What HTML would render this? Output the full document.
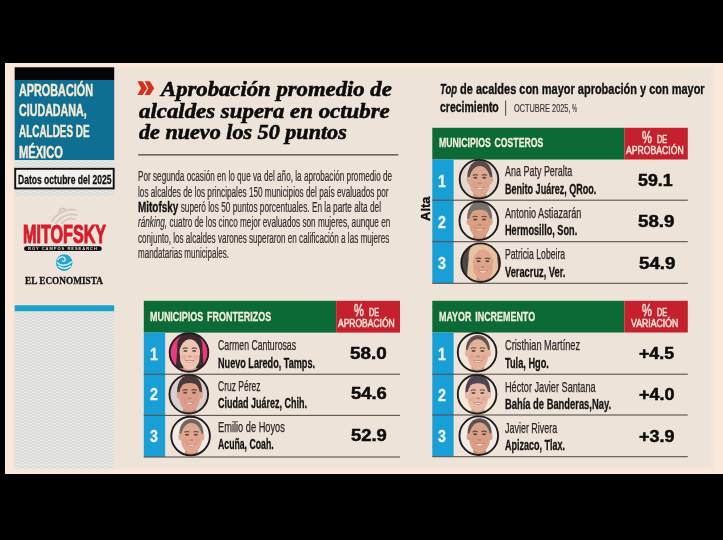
<!DOCTYPE html>
<html lang="es"><head><meta charset="utf-8"><title>Aprobación ciudadana, alcaldes de México</title>
<style>
html,body{margin:0;padding:0;background:#000;}
body{width:723px;height:540px;position:relative;overflow:hidden;font-family:"Liberation Sans","DejaVu Sans",sans-serif;}
.a{position:absolute;}
.t{position:absolute;white-space:nowrap;line-height:1;transform-origin:0 0;margin:0;padding:0;}
.t b{font-weight:700}
svg{position:absolute;left:0;top:0;}
</style></head><body>
<svg width="723" height="540" viewBox="0 0 723 540">
<defs>
<filter id="soft" x="-2%" y="-2%" width="104%" height="104%"><feGaussianBlur stdDeviation="0.9"/></filter>
<filter id="bl" x="-10%" y="-10%" width="120%" height="120%"><feGaussianBlur stdDeviation="0.55"/></filter>
<pattern id="wv" width="8" height="3" patternUnits="userSpaceOnUse">
<rect width="8" height="3" fill="#e9eae6"/>
<path d="M-2,2.5 L0,1.5 L2,0.5 L4,1.5 L6,2.5 L8,1.5 L10,0.5" fill="none" stroke="#d7d9d6" stroke-width="1.3" stroke-linejoin="round"/>
<path d="M-2,5.5 L0,4.5 L2,3.5 L4,4.5 M-2,-0.5 L0,-1.5 M4,-1.5 L6,-0.5 L8,-1.5" fill="none" stroke="#d7d9d6" stroke-width="1.3" stroke-linejoin="round"/>
</pattern>
</defs>
<rect x="0" y="0" width="723" height="540" fill="#000"/>
<rect x="5" y="63" width="718" height="411" fill="#fce8db"/>
<rect x="13.5" y="67" width="699" height="401.5" fill="#eee3d8" filter="url(#soft)"/>
<rect x="14.7" y="67.3" width="99.5" height="13" fill="#050505"/>
<rect x="14.7" y="80" width="99.5" height="80" fill="#0f6f92"/>
<rect x="14.7" y="160" width="99.5" height="36" fill="url(#wv)"/>
<rect x="15.2" y="168.8" width="98.5" height="19.6" fill="#f3efea" stroke="#111" stroke-width="1.9"/>
<g fill="none" stroke="#d5c8bc" stroke-width="1.8" stroke-linecap="round"><path d="M52,221 C58,212 68,208 76,210"/><path d="M56,223 C62,216 70,213 77,215"/><path d="M62,223 C66,219 71,218 75,219"/><path d="M60,213 C58,209 63,207 66,210"/></g>
<rect x="24" y="246.3" width="77.8" height="4.8" rx="2.4" fill="#111"/>
<circle cx="64.2" cy="262.6" r="8.3" fill="#27a5d2"/>
<g fill="none" stroke="#eaf6fb" stroke-width="1.3" stroke-linecap="round"><path d="M57.2,262.5 C60,266.5 67,266 71.5,262"/><path d="M58.5,266 C62,269.3 67.5,268.8 70.6,266"/><path d="M58,259.5 C60,256.5 63.5,256 65,258.5 C66,260.5 64,262 62.5,261"/></g>
<rect x="14.7" y="305.3" width="99.5" height="6.2" fill="#17a3c9"/>
<rect x="14.7" y="311.5" width="99.5" height="157.5" fill="url(#wv)"/>
<g fill="#d52f1f"><path d="M137.5,81.3 h5.2 l4.3,6.9 -4.3,6.9 h-5.2 l3.6,-6.9 z"/><path d="M144.7,81.3 h5.2 l4.3,6.9 -4.3,6.9 h-5.2 l3.6,-6.9 z"/></g>
<rect x="138.2" y="154.4" width="260.2" height="1" fill="#1f1d1c"/>
<rect x="505.2" y="100.5" width="0.9" height="15.2" fill="#333"/>
<rect x="432.3" y="127.8" width="192.09999999999997" height="31.700000000000003" fill="#0c6a37"/><rect x="624.4" y="127.8" width="63.39999999999998" height="31.700000000000003" fill="#c5202e"/><rect x="432.3" y="159.5" width="21.3" height="123.80000000000001" fill="#189fd6"/><rect x="432.3" y="199.64999999999998" width="255.49999999999994" height="1.1" fill="#5a524d"/><rect x="432.3" y="241.14999999999998" width="255.49999999999994" height="1.1" fill="#5a524d"/><rect x="432.3" y="282.75" width="255.49999999999994" height="1.1" fill="#5a524d"/><clipPath id="c479_179"><circle cx="479.0" cy="179.2" r="19.3"/></clipPath><g clip-path="url(#c479_179)"><g transform="translate(479.8,177.89999999999998) scale(1.1,1.12)" filter="url(#bl)"><rect x="-23" y="-23" width="46" height="46" fill="#e3d8d0"/><path d="M-11.2,3 C-14,-22 14,-22 11.2,3 L9,6 L-9,6 Z" fill="#5b4a48"/><ellipse cx="0" cy="27.5" rx="20" ry="10.5" fill="#e8ddd6"/><rect x="-5.8" y="10" width="11.6" height="10" fill="#dba88f"/><rect x="-5.8" y="14" width="11.6" height="4" fill="#8a5a4a" opacity="0.28"/><ellipse cx="-10" cy="2" rx="1.8" ry="3.1" fill="#dba88f"/><ellipse cx="10" cy="2" rx="1.8" ry="3.1" fill="#dba88f"/><ellipse cx="0" cy="3" rx="9.6" ry="13.6" fill="#dba88f"/><ellipse cx="-5.4" cy="5.4" rx="2.6" ry="2.3" fill="#e08a78" opacity="0.3"/><ellipse cx="5.4" cy="5.4" rx="2.6" ry="2.3" fill="#e08a78" opacity="0.3"/><path d="M-10.2,0 C-11,-17 11,-17 10.2,0 C9.2,-7 5.5,-10.4 0,-10.8 C-5.5,-10.4 -9.2,-7 -10.2,0 Z" fill="#5b4a48"/><path d="M-6.4,-2.2 Q-4,-3.6 -1.8,-2.4 M1.8,-2.4 Q4,-3.6 6.4,-2.2" stroke="#3b2a26" stroke-width="1" fill="none" opacity="0.75"/><ellipse cx="-4" cy="-0.1" rx="1.9" ry="0.9" fill="#3b2a26" opacity="0.75"/><ellipse cx="4" cy="-0.1" rx="1.9" ry="0.9" fill="#3b2a26" opacity="0.75"/><ellipse cx="0" cy="4.8" rx="2" ry="1" fill="#a8705c" opacity="0.5"/><path d="M-4.6,7.8 Q0,13 4.6,7.8 Q0,8.8 -4.6,7.8 Z" fill="#b5645c"/><path d="M-3.6,8.5 Q0,11.6 3.6,8.5 Q0,9.3 -3.6,8.5 Z" fill="#fbf4ee"/></g></g><circle cx="479.0" cy="179.2" r="19.3" fill="none" stroke="#211d1d" stroke-width="1.9"/><clipPath id="c478_220"><circle cx="478.8" cy="220.8" r="19.3"/></clipPath><g clip-path="url(#c478_220)"><g transform="translate(479.6,219.5) scale(1.1,1.12)" filter="url(#bl)"><rect x="-23" y="-23" width="46" height="46" fill="#eee7e1"/><path d="M-11.2,2 C-14,-22 14,-22 11.2,2 Z" fill="#77706c"/><ellipse cx="0" cy="27.5" rx="20" ry="10.5" fill="#8b8f98"/><rect x="-5.8" y="10" width="11.6" height="10" fill="#d9a182"/><rect x="-5.8" y="14" width="11.6" height="4" fill="#8a5a4a" opacity="0.28"/><ellipse cx="-10" cy="2" rx="1.8" ry="3.1" fill="#d9a182"/><ellipse cx="10" cy="2" rx="1.8" ry="3.1" fill="#d9a182"/><ellipse cx="0" cy="3" rx="9.6" ry="13.6" fill="#d9a182"/><ellipse cx="-5.4" cy="5.4" rx="2.6" ry="2.3" fill="#e08a78" opacity="0.3"/><ellipse cx="5.4" cy="5.4" rx="2.6" ry="2.3" fill="#e08a78" opacity="0.3"/><path d="M-10.2,-1 C-11,-17 11,-17 10.2,-1 C9.4,-6 7,-8.6 0,-8.8 C-7,-8.6 -9.4,-6 -10.2,-1 Z" fill="#77706c"/><path d="M-6.4,-2.2 Q-4,-3.6 -1.8,-2.4 M1.8,-2.4 Q4,-3.6 6.4,-2.2" stroke="#3b2a26" stroke-width="1" fill="none" opacity="0.75"/><ellipse cx="-4" cy="-0.1" rx="1.9" ry="0.9" fill="#3b2a26" opacity="0.75"/><ellipse cx="4" cy="-0.1" rx="1.9" ry="0.9" fill="#3b2a26" opacity="0.75"/><ellipse cx="0" cy="4.8" rx="2" ry="1" fill="#a8705c" opacity="0.5"/><path d="M-4.6,7.8 Q0,13 4.6,7.8 Q0,8.8 -4.6,7.8 Z" fill="#b5645c"/><path d="M-3.6,8.5 Q0,11.6 3.6,8.5 Q0,9.3 -3.6,8.5 Z" fill="#fbf4ee"/></g></g><circle cx="478.8" cy="220.8" r="19.3" fill="none" stroke="#211d1d" stroke-width="1.9"/><clipPath id="c480_262"><circle cx="480.6" cy="262.7" r="19.3"/></clipPath><g clip-path="url(#c480_262)"><g transform="translate(483.0,261.4) scale(1.1,1.12)" filter="url(#bl)"><rect x="-23" y="-23" width="46" height="46" fill="#4b4749"/><path d="M-13,-3 C-15,-23 15,-23 13,-3 L15.5,23 L-15.5,23 Z" fill="#e5c3a3"/><ellipse cx="0" cy="27.5" rx="20" ry="10.5" fill="#e8c9b8"/><rect x="-5.8" y="10" width="11.6" height="10" fill="#e0a68d"/><rect x="-5.8" y="14" width="11.6" height="4" fill="#8a5a4a" opacity="0.28"/><ellipse cx="0" cy="3" rx="9.6" ry="13.6" fill="#e0a68d"/><ellipse cx="-5.4" cy="5.4" rx="2.6" ry="2.3" fill="#e08a78" opacity="0.3"/><ellipse cx="5.4" cy="5.4" rx="2.6" ry="2.3" fill="#e08a78" opacity="0.3"/><path d="M-10.5,2 C-11,-18 11,-18 10.5,2 C9,-7 5,-10.6 0.5,-11.6 C-4.5,-10.6 -9,-7 -10.5,2 Z" fill="#e5c3a3"/><path d="M-10.2,-2 L-13.5,21 L-8.4,21 L-8.9,4 Z M10.2,-2 L13.5,21 L8.4,21 L8.9,4 Z" fill="#e5c3a3"/><path d="M-6.4,-2.2 Q-4,-3.6 -1.8,-2.4 M1.8,-2.4 Q4,-3.6 6.4,-2.2" stroke="#3b2a26" stroke-width="1" fill="none" opacity="0.75"/><ellipse cx="-4" cy="-0.1" rx="1.9" ry="0.9" fill="#3b2a26" opacity="0.75"/><ellipse cx="4" cy="-0.1" rx="1.9" ry="0.9" fill="#3b2a26" opacity="0.75"/><ellipse cx="0" cy="4.8" rx="2" ry="1" fill="#a8705c" opacity="0.5"/><path d="M-4.6,7.8 Q0,13 4.6,7.8 Q0,8.8 -4.6,7.8 Z" fill="#b5645c"/><path d="M-3.6,8.5 Q0,11.6 3.6,8.5 Q0,9.3 -3.6,8.5 Z" fill="#fbf4ee"/></g></g><circle cx="480.6" cy="262.7" r="19.3" fill="none" stroke="#211d1d" stroke-width="1.9"/>
<rect x="432.3" y="300.8" width="192.09999999999997" height="31.69999999999999" fill="#0c6a37"/><rect x="624.4" y="300.8" width="63.39999999999998" height="31.69999999999999" fill="#c5202e"/><rect x="432.3" y="332.5" width="21.3" height="124.19999999999999" fill="#189fd6"/><rect x="432.3" y="373.65" width="255.49999999999994" height="1.1" fill="#5a524d"/><rect x="432.3" y="414.45" width="255.49999999999994" height="1.1" fill="#5a524d"/><rect x="432.3" y="456.15" width="255.49999999999994" height="1.1" fill="#5a524d"/><clipPath id="c477_352"><circle cx="477.1" cy="352.3" r="19.3"/></clipPath><g clip-path="url(#c477_352)"><g transform="translate(477.90000000000003,351.0) scale(1.1,1.12)" filter="url(#bl)"><rect x="-23" y="-23" width="46" height="46" fill="#efe6de"/><path d="M-10.8,1 C-13,-19.5 13,-19.5 10.8,1 Z" fill="#4a3a36" opacity="0.85"/><ellipse cx="0" cy="27.5" rx="20" ry="10.5" fill="#f1ece8"/><rect x="-5.8" y="10" width="11.6" height="10" fill="#e4b29a"/><rect x="-5.8" y="14" width="11.6" height="4" fill="#8a5a4a" opacity="0.28"/><ellipse cx="-10" cy="2" rx="1.8" ry="3.1" fill="#e4b29a"/><ellipse cx="10" cy="2" rx="1.8" ry="3.1" fill="#e4b29a"/><ellipse cx="0" cy="3" rx="9.6" ry="13.6" fill="#e4b29a"/><ellipse cx="-5.4" cy="5.4" rx="2.6" ry="2.3" fill="#e08a78" opacity="0.3"/><ellipse cx="5.4" cy="5.4" rx="2.6" ry="2.3" fill="#e08a78" opacity="0.3"/><path d="M-10,-2 C-10.5,-15 10.5,-15 10,-2 C9.4,-9 6,-12.4 0,-12.6 C-6,-12.4 -9.4,-9 -10,-2 Z" fill="#4a3a36" opacity="0.4"/><path d="M-6.4,-2.2 Q-4,-3.6 -1.8,-2.4 M1.8,-2.4 Q4,-3.6 6.4,-2.2" stroke="#3b2a26" stroke-width="1" fill="none" opacity="0.75"/><ellipse cx="-4" cy="-0.1" rx="1.9" ry="0.9" fill="#3b2a26" opacity="0.75"/><ellipse cx="4" cy="-0.1" rx="1.9" ry="0.9" fill="#3b2a26" opacity="0.75"/><ellipse cx="0" cy="4.8" rx="2" ry="1" fill="#a8705c" opacity="0.5"/><path d="M-4.6,7.8 Q0,13 4.6,7.8 Q0,8.8 -4.6,7.8 Z" fill="#b5645c"/><path d="M-3.6,8.5 Q0,11.6 3.6,8.5 Q0,9.3 -3.6,8.5 Z" fill="#fbf4ee"/></g></g><circle cx="477.1" cy="352.3" r="19.3" fill="none" stroke="#211d1d" stroke-width="1.9"/><clipPath id="c477_394"><circle cx="477.1" cy="394.3" r="19.3"/></clipPath><g clip-path="url(#c477_394)"><g transform="translate(477.90000000000003,393.0) scale(1.1,1.12)" filter="url(#bl)"><rect x="-23" y="-23" width="46" height="46" fill="#f3ead9"/><path d="M-11.2,2 C-14,-22 14,-22 11.2,2 Z" fill="#4f4452"/><ellipse cx="0" cy="27.5" rx="20" ry="10.5" fill="#f0e4d6"/><rect x="-5.8" y="10" width="11.6" height="10" fill="#e8b8a4"/><rect x="-5.8" y="14" width="11.6" height="4" fill="#8a5a4a" opacity="0.28"/><ellipse cx="-10" cy="2" rx="1.8" ry="3.1" fill="#e8b8a4"/><ellipse cx="10" cy="2" rx="1.8" ry="3.1" fill="#e8b8a4"/><ellipse cx="0" cy="3" rx="9.6" ry="13.6" fill="#e8b8a4"/><ellipse cx="-5.4" cy="5.4" rx="2.6" ry="2.3" fill="#e08a78" opacity="0.3"/><ellipse cx="5.4" cy="5.4" rx="2.6" ry="2.3" fill="#e08a78" opacity="0.3"/><path d="M-10.2,-1 C-11,-17 11,-17 10.2,-1 C9.4,-6 7,-8.6 0,-8.8 C-7,-8.6 -9.4,-6 -10.2,-1 Z" fill="#4f4452"/><path d="M-6.4,-2.2 Q-4,-3.6 -1.8,-2.4 M1.8,-2.4 Q4,-3.6 6.4,-2.2" stroke="#3b2a26" stroke-width="1" fill="none" opacity="0.75"/><ellipse cx="-4" cy="-0.1" rx="1.9" ry="0.9" fill="#3b2a26" opacity="0.75"/><ellipse cx="4" cy="-0.1" rx="1.9" ry="0.9" fill="#3b2a26" opacity="0.75"/><ellipse cx="0" cy="4.8" rx="2" ry="1" fill="#a8705c" opacity="0.5"/><path d="M-4.6,7.8 Q0,13 4.6,7.8 Q0,8.8 -4.6,7.8 Z" fill="#b5645c"/><path d="M-3.6,8.5 Q0,11.6 3.6,8.5 Q0,9.3 -3.6,8.5 Z" fill="#fbf4ee"/></g></g><circle cx="477.1" cy="394.3" r="19.3" fill="none" stroke="#211d1d" stroke-width="1.9"/><clipPath id="c478_435"><circle cx="478.8" cy="435.7" r="19.3"/></clipPath><g clip-path="url(#c478_435)"><g transform="translate(479.6,434.4) scale(1.1,1.12)" filter="url(#bl)"><rect x="-23" y="-23" width="46" height="46" fill="#f0ebe8"/><path d="M-10.8,1 C-13,-19.5 13,-19.5 10.8,1 Z" fill="#453a38" opacity="0.85"/><ellipse cx="0" cy="27.5" rx="20" ry="10.5" fill="#7d3442"/><rect x="-5.8" y="10" width="11.6" height="10" fill="#d9a088"/><rect x="-5.8" y="14" width="11.6" height="4" fill="#8a5a4a" opacity="0.28"/><ellipse cx="-10" cy="2" rx="1.8" ry="3.1" fill="#d9a088"/><ellipse cx="10" cy="2" rx="1.8" ry="3.1" fill="#d9a088"/><ellipse cx="0" cy="3" rx="9.6" ry="13.6" fill="#d9a088"/><ellipse cx="-5.4" cy="5.4" rx="2.6" ry="2.3" fill="#e08a78" opacity="0.3"/><ellipse cx="5.4" cy="5.4" rx="2.6" ry="2.3" fill="#e08a78" opacity="0.3"/><path d="M-10,-2 C-10.5,-15 10.5,-15 10,-2 C9.4,-9 6,-12.4 0,-12.6 C-6,-12.4 -9.4,-9 -10,-2 Z" fill="#453a38" opacity="0.4"/><path d="M-6.4,-2.2 Q-4,-3.6 -1.8,-2.4 M1.8,-2.4 Q4,-3.6 6.4,-2.2" stroke="#3b2a26" stroke-width="1" fill="none" opacity="0.75"/><ellipse cx="-4" cy="-0.1" rx="1.9" ry="0.9" fill="#3b2a26" opacity="0.75"/><ellipse cx="4" cy="-0.1" rx="1.9" ry="0.9" fill="#3b2a26" opacity="0.75"/><ellipse cx="0" cy="4.8" rx="2" ry="1" fill="#a8705c" opacity="0.5"/><path d="M-4.6,7.8 Q0,13 4.6,7.8 Q0,8.8 -4.6,7.8 Z" fill="#b5645c"/><path d="M-3.6,8.5 Q0,11.6 3.6,8.5 Q0,9.3 -3.6,8.5 Z" fill="#fbf4ee"/></g></g><circle cx="478.8" cy="435.7" r="19.3" fill="none" stroke="#211d1d" stroke-width="1.9"/>
<rect x="143.8" y="300.8" width="192.39999999999998" height="31.80000000000001" fill="#0c6a37"/><rect x="336.2" y="300.8" width="63.80000000000001" height="31.80000000000001" fill="#c5202e"/><rect x="143.8" y="332.6" width="21.3" height="124.39999999999998" fill="#189fd6"/><rect x="143.8" y="373.65" width="256.2" height="1.1" fill="#5a524d"/><rect x="143.8" y="414.84999999999997" width="256.2" height="1.1" fill="#5a524d"/><rect x="143.8" y="456.45" width="256.2" height="1.1" fill="#5a524d"/><clipPath id="c189_352"><circle cx="189.0" cy="352.5" r="19.3"/></clipPath><g clip-path="url(#c189_352)"><g transform="translate(189.8,351.2) scale(1.1,1.12)" filter="url(#bl)"><rect x="-23" y="-23" width="46" height="46" fill="#e83a78"/><path d="M-11.4,-3 C-13,-21 13,-21 11.4,-3 L12.6,15 L-12.6,15 Z" fill="#3a2a30"/><ellipse cx="0" cy="27.5" rx="20" ry="10.5" fill="#e2417a"/><rect x="-5.8" y="10" width="11.6" height="10" fill="#ecc4b2"/><rect x="-5.8" y="14" width="11.6" height="4" fill="#8a5a4a" opacity="0.28"/><ellipse cx="0" cy="3" rx="9.6" ry="13.6" fill="#ecc4b2"/><ellipse cx="-5.4" cy="5.4" rx="2.6" ry="2.3" fill="#e08a78" opacity="0.3"/><ellipse cx="5.4" cy="5.4" rx="2.6" ry="2.3" fill="#e08a78" opacity="0.3"/><path d="M-10.5,2 C-11,-17 11,-17 10.5,2 C9,-7 5,-10.6 0.5,-11.6 C-4.5,-10.6 -9,-7 -10.5,2 Z" fill="#3a2a30"/><path d="M-10.2,-2 L-12.2,15 L-8.6,15 L-8.9,4 Z M10.2,-2 L12.2,15 L8.6,15 L8.9,4 Z" fill="#3a2a30"/><path d="M-6.4,-2.2 Q-4,-3.6 -1.8,-2.4 M1.8,-2.4 Q4,-3.6 6.4,-2.2" stroke="#3b2a26" stroke-width="1" fill="none" opacity="0.75"/><ellipse cx="-4" cy="-0.1" rx="1.9" ry="0.9" fill="#3b2a26" opacity="0.75"/><ellipse cx="4" cy="-0.1" rx="1.9" ry="0.9" fill="#3b2a26" opacity="0.75"/><ellipse cx="0" cy="4.8" rx="2" ry="1" fill="#a8705c" opacity="0.5"/><path d="M-4.6,7.8 Q0,13 4.6,7.8 Q0,8.8 -4.6,7.8 Z" fill="#d0405a"/><path d="M-3.6,8.5 Q0,11.6 3.6,8.5 Q0,9.3 -3.6,8.5 Z" fill="#fbf4ee"/></g></g><circle cx="189.0" cy="352.5" r="19.3" fill="none" stroke="#211d1d" stroke-width="1.9"/><clipPath id="c188_394"><circle cx="188.8" cy="394.2" r="19.3"/></clipPath><g clip-path="url(#c188_394)"><g transform="translate(189.60000000000002,392.9) scale(1.1,1.12)" filter="url(#bl)"><rect x="-23" y="-23" width="46" height="46" fill="#d9cfd2"/><path d="M-11.2,2 C-14,-22 14,-22 11.2,2 Z" fill="#4a3a38"/><ellipse cx="0" cy="27.5" rx="20" ry="10.5" fill="#e6e0e4"/><rect x="-5.8" y="10" width="11.6" height="10" fill="#dba08a"/><rect x="-5.8" y="14" width="11.6" height="4" fill="#8a5a4a" opacity="0.28"/><ellipse cx="-10" cy="2" rx="1.8" ry="3.1" fill="#dba08a"/><ellipse cx="10" cy="2" rx="1.8" ry="3.1" fill="#dba08a"/><ellipse cx="0" cy="3" rx="9.6" ry="13.6" fill="#dba08a"/><ellipse cx="-5.4" cy="5.4" rx="2.6" ry="2.3" fill="#e08a78" opacity="0.3"/><ellipse cx="5.4" cy="5.4" rx="2.6" ry="2.3" fill="#e08a78" opacity="0.3"/><path d="M-10.2,-1 C-11,-17 11,-17 10.2,-1 C9.4,-6 7,-8.6 0,-8.8 C-7,-8.6 -9.4,-6 -10.2,-1 Z" fill="#4a3a38"/><path d="M-6.4,-2.2 Q-4,-3.6 -1.8,-2.4 M1.8,-2.4 Q4,-3.6 6.4,-2.2" stroke="#3b2a26" stroke-width="1" fill="none" opacity="0.75"/><ellipse cx="-4" cy="-0.1" rx="1.9" ry="0.9" fill="#3b2a26" opacity="0.75"/><ellipse cx="4" cy="-0.1" rx="1.9" ry="0.9" fill="#3b2a26" opacity="0.75"/><ellipse cx="0" cy="4.8" rx="2" ry="1" fill="#a8705c" opacity="0.5"/><path d="M-4.6,7.8 Q0,13 4.6,7.8 Q0,8.8 -4.6,7.8 Z" fill="#b5645c"/><path d="M-3.6,8.5 Q0,11.6 3.6,8.5 Q0,9.3 -3.6,8.5 Z" fill="#fbf4ee"/></g></g><circle cx="188.8" cy="394.2" r="19.3" fill="none" stroke="#211d1d" stroke-width="1.9"/><clipPath id="c190_436"><circle cx="190.6" cy="436.1" r="19.3"/></clipPath><g clip-path="url(#c190_436)"><g transform="translate(191.4,434.8) scale(1.1,1.12)" filter="url(#bl)"><rect x="-23" y="-23" width="46" height="46" fill="#f1ece8"/><path d="M-10.8,1 C-13,-19.5 13,-19.5 10.8,1 Z" fill="#5e524e" opacity="0.85"/><ellipse cx="0" cy="27.5" rx="20" ry="10.5" fill="#ece6e2"/><rect x="-5.8" y="10" width="11.6" height="10" fill="#e0a890"/><rect x="-5.8" y="14" width="11.6" height="4" fill="#8a5a4a" opacity="0.28"/><ellipse cx="-10" cy="2" rx="1.8" ry="3.1" fill="#e0a890"/><ellipse cx="10" cy="2" rx="1.8" ry="3.1" fill="#e0a890"/><ellipse cx="0" cy="3" rx="9.6" ry="13.6" fill="#e0a890"/><ellipse cx="-5.4" cy="5.4" rx="2.6" ry="2.3" fill="#e08a78" opacity="0.3"/><ellipse cx="5.4" cy="5.4" rx="2.6" ry="2.3" fill="#e08a78" opacity="0.3"/><path d="M-10,-2 C-10.5,-15 10.5,-15 10,-2 C9.4,-9 6,-12.4 0,-12.6 C-6,-12.4 -9.4,-9 -10,-2 Z" fill="#5e524e" opacity="0.4"/><path d="M-6.4,-2.2 Q-4,-3.6 -1.8,-2.4 M1.8,-2.4 Q4,-3.6 6.4,-2.2" stroke="#3b2a26" stroke-width="1" fill="none" opacity="0.75"/><ellipse cx="-4" cy="-0.1" rx="1.9" ry="0.9" fill="#3b2a26" opacity="0.75"/><ellipse cx="4" cy="-0.1" rx="1.9" ry="0.9" fill="#3b2a26" opacity="0.75"/><ellipse cx="0" cy="4.8" rx="2" ry="1" fill="#a8705c" opacity="0.5"/><path d="M-4.6,7.8 Q0,13 4.6,7.8 Q0,8.8 -4.6,7.8 Z" fill="#b5645c"/><path d="M-3.6,8.5 Q0,11.6 3.6,8.5 Q0,9.3 -3.6,8.5 Z" fill="#fbf4ee"/></g></g><circle cx="190.6" cy="436.1" r="19.3" fill="none" stroke="#211d1d" stroke-width="1.9"/>
</svg>
<div class="a" style="left:419px;top:197px;width:13px;height:24.2px;"><div style="position:absolute;left:0;top:24.2px;transform-origin:0 0;transform:rotate(-90deg);font:700 13px/13px 'Liberation Sans','DejaVu Sans',sans-serif;color:#0c0c0c;white-space:nowrap;-webkit-text-stroke:0.3px #0c0c0c">Alta</div></div>
<div class="t" id="t0" style="left:19.20px;top:83.30px;font-family:'Liberation Sans','DejaVu Sans',sans-serif;font-size:16px;transform:scaleX(0.6771);font-weight:700;color:#f6ecd6;-webkit-text-stroke:0.45px #f6ecd6">APROBACIÓN</div>
<div class="t" id="t1" style="left:19.20px;top:102.80px;font-family:'Liberation Sans','DejaVu Sans',sans-serif;font-size:16px;transform:scaleX(0.6683);font-weight:700;color:#f6ecd6;-webkit-text-stroke:0.45px #f6ecd6">CIUDADANA,</div>
<div class="t" id="t2" style="left:19.20px;top:124.00px;font-family:'Liberation Sans','DejaVu Sans',sans-serif;font-size:16px;transform:scaleX(0.6211);font-weight:700;color:#f6ecd6;-webkit-text-stroke:0.45px #f6ecd6">ALCALDES DE</div>
<div class="t" id="t3" style="left:19.20px;top:144.50px;font-family:'Liberation Sans','DejaVu Sans',sans-serif;font-size:16px;transform:scaleX(0.6952);font-weight:700;color:#f6ecd6;-webkit-text-stroke:0.45px #f6ecd6">MÉXICO</div>
<div class="t" id="t4" style="left:17.50px;top:172.70px;font-family:'Liberation Sans','DejaVu Sans',sans-serif;font-size:13.2px;transform:scaleX(0.6479);font-weight:700;color:#111;-webkit-text-stroke:0.3px #111">Datos octubre del 2025</div>
<div class="t" id="t5" style="left:22.50px;top:222.00px;font-family:'Liberation Sans','DejaVu Sans',sans-serif;font-size:25.2px;transform:scaleX(0.6408);font-weight:700;color:#d51f2b;-webkit-text-stroke:1.1px #d51f2b">MITOFSKY</div>
<div class="t" id="t6" style="left:28.00px;top:247.20px;font-family:'Liberation Sans','DejaVu Sans',sans-serif;font-size:4px;transform:scaleX(1.0000);font-weight:700;color:#e8e0d8;letter-spacing:1px">ROY CAMPOS RESEARCH</div>
<div class="t" id="t7" style="left:25.00px;top:275.50px;font-family:'Liberation Serif','DejaVu Serif',serif;font-size:10.6px;transform:scaleX(0.8764);font-weight:700;color:#111;-webkit-text-stroke:0.3px #111">EL ECONOMISTA</div>
<div class="t" id="t8" style="left:161.00px;top:78.80px;font-family:'Liberation Serif','DejaVu Serif',serif;font-size:20.5px;transform:scaleX(1.1072);font-weight:700;font-style:italic;color:#0b0b0b;-webkit-text-stroke:0.55px #0b0b0b">Aprobación promedio de</div>
<div class="t" id="t9" style="left:138.70px;top:101.30px;font-family:'Liberation Serif','DejaVu Serif',serif;font-size:20.5px;transform:scaleX(1.1147);font-weight:700;font-style:italic;color:#0b0b0b;-webkit-text-stroke:0.55px #0b0b0b">alcaldes supera en octubre</div>
<div class="t" id="t10" style="left:138.70px;top:122.20px;font-family:'Liberation Serif','DejaVu Serif',serif;font-size:20.5px;transform:scaleX(1.0793);font-weight:700;font-style:italic;color:#0b0b0b;-webkit-text-stroke:0.55px #0b0b0b">de nuevo los 50 puntos</div>
<div class="t" id="t11" style="left:137.80px;top:169.10px;font-family:'Liberation Sans','DejaVu Sans',sans-serif;font-size:14px;transform:scaleX(0.5839);color:#322f2f;-webkit-text-stroke:0.2px #322f2f">Por segunda ocasión en lo que va del año, la aprobación promedio de</div>
<div class="t" id="t12" style="left:137.80px;top:184.70px;font-family:'Liberation Sans','DejaVu Sans',sans-serif;font-size:14px;transform:scaleX(0.5864);color:#322f2f;-webkit-text-stroke:0.2px #322f2f">los alcaldes de los principales 150 municipios del país evaluados por</div>
<div class="t" id="t13" style="left:137.80px;top:199.60px;font-family:'Liberation Sans','DejaVu Sans',sans-serif;font-size:14px;transform:scaleX(0.5917);color:#322f2f;-webkit-text-stroke:0.2px #322f2f"><b style="color:#111;display:inline-block;transform:scaleX(1.2);transform-origin:0 50%;margin-right:11.4px;-webkit-text-stroke:0.3px #111">Mitofsky</b> superó los 50 puntos porcentuales. En la parte alta del</div>
<div class="t" id="t14" style="left:137.80px;top:215.10px;font-family:'Liberation Sans','DejaVu Sans',sans-serif;font-size:14px;transform:scaleX(0.5852);color:#322f2f;-webkit-text-stroke:0.2px #322f2f"><i>ránking,</i> cuatro de los cinco mejor evaluados son mujeres, aunque en</div>
<div class="t" id="t15" style="left:137.80px;top:230.70px;font-family:'Liberation Sans','DejaVu Sans',sans-serif;font-size:14px;transform:scaleX(0.5799);color:#322f2f;-webkit-text-stroke:0.2px #322f2f">conjunto, los alcaldes varones superaron en calificación a las mujeres</div>
<div class="t" id="t16" style="left:137.80px;top:245.80px;font-family:'Liberation Sans','DejaVu Sans',sans-serif;font-size:14px;transform:scaleX(0.5730);color:#322f2f;-webkit-text-stroke:0.2px #322f2f">mandatarias municipales.</div>
<div class="t" id="t17" style="left:439.50px;top:80.90px;font-family:'Liberation Sans','DejaVu Sans',sans-serif;font-size:15.4px;transform:scaleX(0.7129);font-weight:700;color:#111;-webkit-text-stroke:0.35px #111"><i style="display:inline-block;transform:scaleX(.87);transform-origin:0 50%;margin-right:-3.7px">Top</i> de acaldes con mayor aprobación y con mayor</div>
<div class="t" id="t18" style="left:439.50px;top:99.10px;font-family:'Liberation Sans','DejaVu Sans',sans-serif;font-size:15.4px;transform:scaleX(0.6802);font-weight:700;color:#111;-webkit-text-stroke:0.35px #111">crecimiento</div>
<div class="t" id="t19" style="left:514.40px;top:103.00px;font-family:'Liberation Sans','DejaVu Sans',sans-serif;font-size:11.5px;transform:scaleX(0.6404);color:#3a3636;-webkit-text-stroke:0.2px #3a3636">OCTUBRE 2025, <span style="display:inline-block;transform:scaleX(.7);transform-origin:0 50%;margin-right:-3.1px">%</span></div>
<div class="t" id="t20" style="left:438.90px;top:136.30px;font-family:'Liberation Sans','DejaVu Sans',sans-serif;font-size:13px;transform:scaleX(0.6692);font-weight:700;color:#f4eedc;word-spacing:2px;-webkit-text-stroke:0.3px #f4eedc">MUNICIPIOS COSTEROS</div>
<div class="t" id="t21" style="left:150.00px;top:309.80px;font-family:'Liberation Sans','DejaVu Sans',sans-serif;font-size:13px;transform:scaleX(0.6881);font-weight:700;color:#f4eedc;word-spacing:2px;-webkit-text-stroke:0.3px #f4eedc">MUNICIPIOS FRONTERIZOS</div>
<div class="t" id="t22" style="left:438.90px;top:309.80px;font-family:'Liberation Sans','DejaVu Sans',sans-serif;font-size:13px;transform:scaleX(0.6864);font-weight:700;color:#f4eedc;word-spacing:2px;-webkit-text-stroke:0.3px #f4eedc">MAYOR INCREMENTO</div>
<div class="t" id="t23" style="left:642.40px;top:129.80px;font-family:'Liberation Sans','DejaVu Sans',sans-serif;font-size:15.6px;transform:scaleX(0.7143);font-weight:400;color:#f9e4d6;-webkit-text-stroke:0.5px #f9e4d6">%</div>
<div class="t" id="t24" style="left:656.90px;top:134.80px;font-family:'Liberation Sans','DejaVu Sans',sans-serif;font-size:10px;transform:scaleX(0.7214);font-weight:400;color:#f9e4d6;-webkit-text-stroke:0.5px #f9e4d6">DE</div>
<div class="t" id="t25" style="left:625.80px;top:145.90px;font-family:'Liberation Sans','DejaVu Sans',sans-serif;font-size:10px;transform:scaleX(0.8657);font-weight:400;color:#f9e4d6;-webkit-text-stroke:0.5px #f9e4d6">APROBACIÓN</div>
<div class="t" id="t26" style="left:354.20px;top:302.80px;font-family:'Liberation Sans','DejaVu Sans',sans-serif;font-size:15.6px;transform:scaleX(0.7143);font-weight:400;color:#f9e4d6;-webkit-text-stroke:0.5px #f9e4d6">%</div>
<div class="t" id="t27" style="left:368.70px;top:307.80px;font-family:'Liberation Sans','DejaVu Sans',sans-serif;font-size:10px;transform:scaleX(0.7214);font-weight:400;color:#f9e4d6;-webkit-text-stroke:0.5px #f9e4d6">DE</div>
<div class="t" id="t28" style="left:338.00px;top:318.90px;font-family:'Liberation Sans','DejaVu Sans',sans-serif;font-size:10px;transform:scaleX(0.8507);font-weight:400;color:#f9e4d6;-webkit-text-stroke:0.5px #f9e4d6">APROBACIÓN</div>
<div class="t" id="t29" style="left:642.40px;top:302.80px;font-family:'Liberation Sans','DejaVu Sans',sans-serif;font-size:15.6px;transform:scaleX(0.7143);font-weight:400;color:#f9e4d6;-webkit-text-stroke:0.5px #f9e4d6">%</div>
<div class="t" id="t30" style="left:656.90px;top:307.80px;font-family:'Liberation Sans','DejaVu Sans',sans-serif;font-size:10px;transform:scaleX(0.7214);font-weight:400;color:#f9e4d6;-webkit-text-stroke:0.5px #f9e4d6">DE</div>
<div class="t" id="t31" style="left:631.00px;top:318.90px;font-family:'Liberation Sans','DejaVu Sans',sans-serif;font-size:10px;transform:scaleX(0.8704);font-weight:400;color:#f9e4d6;-webkit-text-stroke:0.5px #f9e4d6">VARIACIÓN</div>
<div class="t" id="t32" style="left:505.40px;top:164.00px;font-family:'Liberation Sans','DejaVu Sans',sans-serif;font-size:14.6px;transform:scaleX(0.6145);color:#2b2727;-webkit-text-stroke:0.25px #2b2727">Ana Paty Peralta</div>
<div class="t" id="t33" style="left:505.40px;top:181.80px;font-family:'Liberation Sans','DejaVu Sans',sans-serif;font-size:14.6px;transform:scaleX(0.6189);font-weight:700;color:#151313;-webkit-text-stroke:0.3px #151313">Benito Juárez, QRoo.</div>
<div class="t" id="t34" style="left:638.40px;top:173.00px;font-family:'Liberation Sans','DejaVu Sans',sans-serif;font-size:16.6px;transform:scaleX(1.0719);font-weight:700;color:#0c0c0c;-webkit-text-stroke:0.5px #0c0c0c">59.1</div>
<div class="t" id="t35" style="left:438.00px;top:173.60px;font-family:'Liberation Sans','DejaVu Sans',sans-serif;font-size:16px;transform:scaleX(0.8889);font-weight:700;color:#f4f4ee;-webkit-text-stroke:0.3px #f4f4ee">1</div>
<div class="t" id="t36" style="left:505.40px;top:205.50px;font-family:'Liberation Sans','DejaVu Sans',sans-serif;font-size:14.6px;transform:scaleX(0.6279);color:#2b2727;-webkit-text-stroke:0.25px #2b2727">Antonio Astiazarán</div>
<div class="t" id="t37" style="left:505.40px;top:223.00px;font-family:'Liberation Sans','DejaVu Sans',sans-serif;font-size:14.6px;transform:scaleX(0.6270);font-weight:700;color:#151313;-webkit-text-stroke:0.3px #151313">Hermosillo, Son.</div>
<div class="t" id="t38" style="left:638.40px;top:214.10px;font-family:'Liberation Sans','DejaVu Sans',sans-serif;font-size:16.6px;transform:scaleX(1.1281);font-weight:700;color:#0c0c0c;-webkit-text-stroke:0.5px #0c0c0c">58.9</div>
<div class="t" id="t39" style="left:438.00px;top:214.70px;font-family:'Liberation Sans','DejaVu Sans',sans-serif;font-size:16px;transform:scaleX(0.8889);font-weight:700;color:#f4f4ee;-webkit-text-stroke:0.3px #f4f4ee">2</div>
<div class="t" id="t40" style="left:505.40px;top:247.00px;font-family:'Liberation Sans','DejaVu Sans',sans-serif;font-size:14.6px;transform:scaleX(0.5931);color:#2b2727;-webkit-text-stroke:0.25px #2b2727">Patricia Lobeira</div>
<div class="t" id="t41" style="left:505.40px;top:264.50px;font-family:'Liberation Sans','DejaVu Sans',sans-serif;font-size:14.6px;transform:scaleX(0.6358);font-weight:700;color:#151313;-webkit-text-stroke:0.3px #151313">Veracruz, Ver.</div>
<div class="t" id="t42" style="left:638.50px;top:255.60px;font-family:'Liberation Sans','DejaVu Sans',sans-serif;font-size:16.6px;transform:scaleX(1.1281);font-weight:700;color:#0c0c0c;-webkit-text-stroke:0.5px #0c0c0c">54.9</div>
<div class="t" id="t43" style="left:438.00px;top:256.20px;font-family:'Liberation Sans','DejaVu Sans',sans-serif;font-size:16px;transform:scaleX(0.8889);font-weight:700;color:#f4f4ee;-webkit-text-stroke:0.3px #f4f4ee">3</div>
<div class="t" id="t44" style="left:505.40px;top:338.00px;font-family:'Liberation Sans','DejaVu Sans',sans-serif;font-size:14.6px;transform:scaleX(0.6347);color:#2b2727;-webkit-text-stroke:0.25px #2b2727">Cristhian Martínez</div>
<div class="t" id="t45" style="left:505.40px;top:355.80px;font-family:'Liberation Sans','DejaVu Sans',sans-serif;font-size:14.6px;transform:scaleX(0.6319);font-weight:700;color:#151313;-webkit-text-stroke:0.3px #151313">Tula, Hgo.</div>
<div class="t" id="t46" style="left:638.90px;top:346.00px;font-family:'Liberation Sans','DejaVu Sans',sans-serif;font-size:16.6px;transform:scaleX(1.0697);font-weight:700;color:#0c0c0c;-webkit-text-stroke:0.5px #0c0c0c">+4.5</div>
<div class="t" id="t47" style="left:438.00px;top:346.60px;font-family:'Liberation Sans','DejaVu Sans',sans-serif;font-size:16px;transform:scaleX(0.8889);font-weight:700;color:#f4f4ee;-webkit-text-stroke:0.3px #f4f4ee">1</div>
<div class="t" id="t48" style="left:505.40px;top:379.70px;font-family:'Liberation Sans','DejaVu Sans',sans-serif;font-size:14.6px;transform:scaleX(0.6278);color:#2b2727;-webkit-text-stroke:0.25px #2b2727">Héctor Javier Santana</div>
<div class="t" id="t49" style="left:505.40px;top:396.70px;font-family:'Liberation Sans','DejaVu Sans',sans-serif;font-size:14.6px;transform:scaleX(0.6418);font-weight:700;color:#151313;-webkit-text-stroke:0.3px #151313">Bahía de Banderas,Nay.</div>
<div class="t" id="t50" style="left:638.90px;top:387.40px;font-family:'Liberation Sans','DejaVu Sans',sans-serif;font-size:16.6px;transform:scaleX(1.0788);font-weight:700;color:#0c0c0c;-webkit-text-stroke:0.5px #0c0c0c">+4.0</div>
<div class="t" id="t51" style="left:438.00px;top:388.00px;font-family:'Liberation Sans','DejaVu Sans',sans-serif;font-size:16px;transform:scaleX(0.8889);font-weight:700;color:#f4f4ee;-webkit-text-stroke:0.3px #f4f4ee">2</div>
<div class="t" id="t52" style="left:505.40px;top:420.50px;font-family:'Liberation Sans','DejaVu Sans',sans-serif;font-size:14.6px;transform:scaleX(0.6129);color:#2b2727;-webkit-text-stroke:0.25px #2b2727">Javier Rivera</div>
<div class="t" id="t53" style="left:505.40px;top:438.00px;font-family:'Liberation Sans','DejaVu Sans',sans-serif;font-size:14.6px;transform:scaleX(0.6175);font-weight:700;color:#151313;-webkit-text-stroke:0.3px #151313">Apizaco, Tlax.</div>
<div class="t" id="t54" style="left:638.90px;top:428.70px;font-family:'Liberation Sans','DejaVu Sans',sans-serif;font-size:16.6px;transform:scaleX(1.0788);font-weight:700;color:#0c0c0c;-webkit-text-stroke:0.5px #0c0c0c">+3.9</div>
<div class="t" id="t55" style="left:438.00px;top:429.30px;font-family:'Liberation Sans','DejaVu Sans',sans-serif;font-size:16px;transform:scaleX(0.8889);font-weight:700;color:#f4f4ee;-webkit-text-stroke:0.3px #f4f4ee">3</div>
<div class="t" id="t56" style="left:217.50px;top:338.00px;font-family:'Liberation Sans','DejaVu Sans',sans-serif;font-size:14.6px;transform:scaleX(0.5977);color:#2b2727;-webkit-text-stroke:0.25px #2b2727">Carmen Canturosas</div>
<div class="t" id="t57" style="left:217.50px;top:355.50px;font-family:'Liberation Sans','DejaVu Sans',sans-serif;font-size:14.6px;transform:scaleX(0.6239);font-weight:700;color:#151313;-webkit-text-stroke:0.3px #151313">Nuevo Laredo, Tamps.</div>
<div class="t" id="t58" style="left:350.30px;top:346.20px;font-family:'Liberation Sans','DejaVu Sans',sans-serif;font-size:16.6px;transform:scaleX(1.1344);font-weight:700;color:#0c0c0c;-webkit-text-stroke:0.5px #0c0c0c">58.0</div>
<div class="t" id="t59" style="left:150.00px;top:346.80px;font-family:'Liberation Sans','DejaVu Sans',sans-serif;font-size:16px;transform:scaleX(0.8889);font-weight:700;color:#f4f4ee;-webkit-text-stroke:0.3px #f4f4ee">1</div>
<div class="t" id="t60" style="left:217.50px;top:378.80px;font-family:'Liberation Sans','DejaVu Sans',sans-serif;font-size:14.6px;transform:scaleX(0.5822);color:#2b2727;-webkit-text-stroke:0.25px #2b2727">Cruz Pérez</div>
<div class="t" id="t61" style="left:217.50px;top:396.30px;font-family:'Liberation Sans','DejaVu Sans',sans-serif;font-size:14.6px;transform:scaleX(0.6167);font-weight:700;color:#151313;-webkit-text-stroke:0.3px #151313">Ciudad Juárez, Chih.</div>
<div class="t" id="t62" style="left:350.50px;top:386.40px;font-family:'Liberation Sans','DejaVu Sans',sans-serif;font-size:16.6px;transform:scaleX(1.1094);font-weight:700;color:#0c0c0c;-webkit-text-stroke:0.5px #0c0c0c">54.6</div>
<div class="t" id="t63" style="left:150.00px;top:387.00px;font-family:'Liberation Sans','DejaVu Sans',sans-serif;font-size:16px;transform:scaleX(0.8889);font-weight:700;color:#f4f4ee;-webkit-text-stroke:0.3px #f4f4ee">2</div>
<div class="t" id="t64" style="left:217.50px;top:420.00px;font-family:'Liberation Sans','DejaVu Sans',sans-serif;font-size:14.6px;transform:scaleX(0.6343);color:#2b2727;-webkit-text-stroke:0.25px #2b2727">Emilio de Hoyos</div>
<div class="t" id="t65" style="left:217.50px;top:437.20px;font-family:'Liberation Sans','DejaVu Sans',sans-serif;font-size:14.6px;transform:scaleX(0.5968);font-weight:700;color:#151313;-webkit-text-stroke:0.3px #151313">Acuña, Coah.</div>
<div class="t" id="t66" style="left:350.50px;top:428.20px;font-family:'Liberation Sans','DejaVu Sans',sans-serif;font-size:16.6px;transform:scaleX(1.1094);font-weight:700;color:#0c0c0c;-webkit-text-stroke:0.5px #0c0c0c">52.9</div>
<div class="t" id="t67" style="left:150.00px;top:428.80px;font-family:'Liberation Sans','DejaVu Sans',sans-serif;font-size:16px;transform:scaleX(0.8889);font-weight:700;color:#f4f4ee;-webkit-text-stroke:0.3px #f4f4ee">3</div>
</body></html>
